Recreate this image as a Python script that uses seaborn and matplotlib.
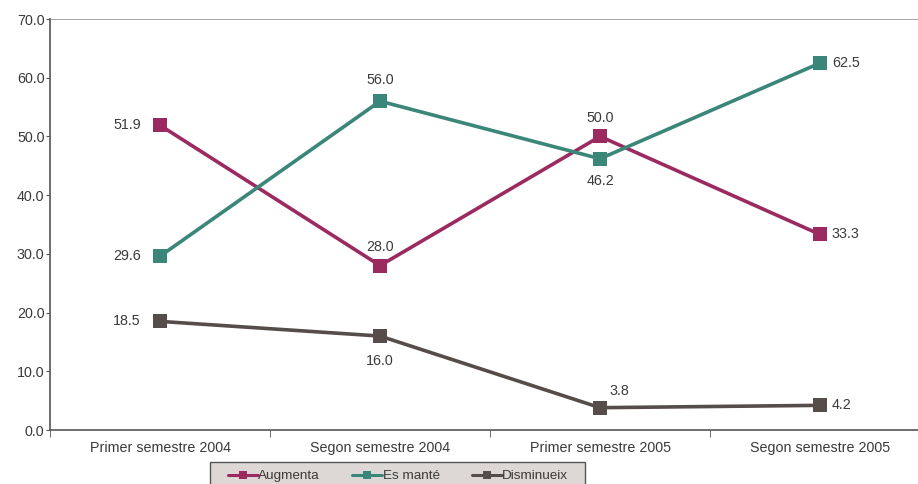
import numpy as np
import pandas as pd
import matplotlib
matplotlib.use("Agg")
import matplotlib.pyplot as plt
from matplotlib.lines import Line2D
from matplotlib.patches import Rectangle
import seaborn as sns

periodes = ["Primer semestre 2004", "Segon semestre 2004",
            "Primer semestre 2005", "Segon semestre 2005"]
augmenta = [51.9, 28.0, 50.0, 33.3]
es_mante = [29.6, 56.0, 46.2, 62.5]
disminueix = [18.5, 16.0, 3.8, 4.2]
series = ["Augmenta", "Es manté", "Disminueix"]
colors = ["#9A2A60", "#3A8678", "#564C49"]

df = pd.DataFrame({"periode": periodes * 3,
                   "x": list(range(4)) * 3,
                   "valor": augmenta + es_mante + disminueix,
                   "serie": np.repeat(series, 4)})

sns.set_style("white")
plt.rcParams['font.family'] = ['Liberation Sans', 'DejaVu Sans']
FS = 10.3
TXT = "#3A3A3A"

fig = plt.figure(figsize=(9.18, 4.84), dpi=100)
ax = fig.add_axes([50 / 918, 54 / 484, 1 - 50 / 918, 411 / 484])

ax = sns.lineplot(data=df, x="x", y="valor", hue="serie", palette=colors,
                  marker="s", markersize=9.5, markeredgewidth=0, linewidth=2.6,
                  legend=False, ax=ax)

# etiquetes de dades (offset en punts)
offsets = {
    "Augmenta": [(-14, 0, "right", "center"), (0, 8, "center", "bottom"),
                 (0, 8, "center", "bottom"), (8.5, 0, "left", "center")],
    "Es manté": [(-14, 0, "right", "center"), (0, 10, "center", "bottom"),
                 (0, -11, "center", "top"), (8.5, 0, "left", "center")],
    "Disminueix": [(-14, 0, "right", "center"), (0, -13, "center", "top"),
                   (7, 7, "left", "bottom"), (8.5, 0, "left", "center")],
}
for s, vals in zip(series, [augmenta, es_mante, disminueix]):
    for i, v in enumerate(vals):
        dx, dy, ha, va = offsets[s][i]
        ax.annotate(f"{v:.1f}", (i, v), xytext=(dx, dy),
                    textcoords="offset points", ha=ha, va=va,
                    fontsize=FS, color=TXT)

ax.set_yticks(np.arange(0, 71, 10))
ax.set_yticklabels([f"{t:.1f}" for t in np.arange(0, 71, 10)],
                   fontsize=FS, color=TXT)
ax.set_xticks(range(4))
ax.set_xticklabels(periodes, fontsize=FS, color=TXT)
ax.tick_params(axis="x", length=0, pad=8)
ax.set_xticks(np.arange(-0.5, 3.6, 1), minor=True)
ax.tick_params(axis="x", which="minor", length=5, direction="out",
               color="#555555", bottom=True)
ax.tick_params(axis="y", length=3, direction="out", color="#555555",
               left=True, pad=1)
ax.set_xlim(-0.5, 3.445)
ax.set_ylim(0, 70)
ax.set_xlabel("")
ax.set_ylabel("")

ax.axhline(70, color="#9A9494", linewidth=1.2)
for sp in ["top", "right"]:
    ax.spines[sp].set_visible(False)
for sp in ["left", "bottom"]:
    ax.spines[sp].set_color("#555555")
    ax.spines[sp].set_linewidth(1.2)

# caixa de la llegenda (tallada a la vora inferior com a l'original)
fig.patches.append(Rectangle((210 / 918, -0.05), 375 / 918, 22 / 484 + 0.05,
                             transform=fig.transFigure, facecolor="#DDD8D5",
                             edgecolor="#555555", linewidth=1.0, zorder=-1))

handles = [Line2D([], [], color=c, linewidth=2.2, marker="s", markersize=6,
                  markeredgewidth=0) for c in colors]
leg = ax.legend(handles, series, loc="upper left",
                bbox_to_anchor=(224 / 918, 18 / 484), bbox_transform=fig.transFigure,
                ncol=3, frameon=False, fontsize=9.7,
                handlelength=2.2, handletextpad=0.05, columnspacing=2.4,
                borderpad=0.3, borderaxespad=0)
for t in leg.get_texts():
    t.set_color(TXT)

fig.savefig("out.png", dpi=100)
